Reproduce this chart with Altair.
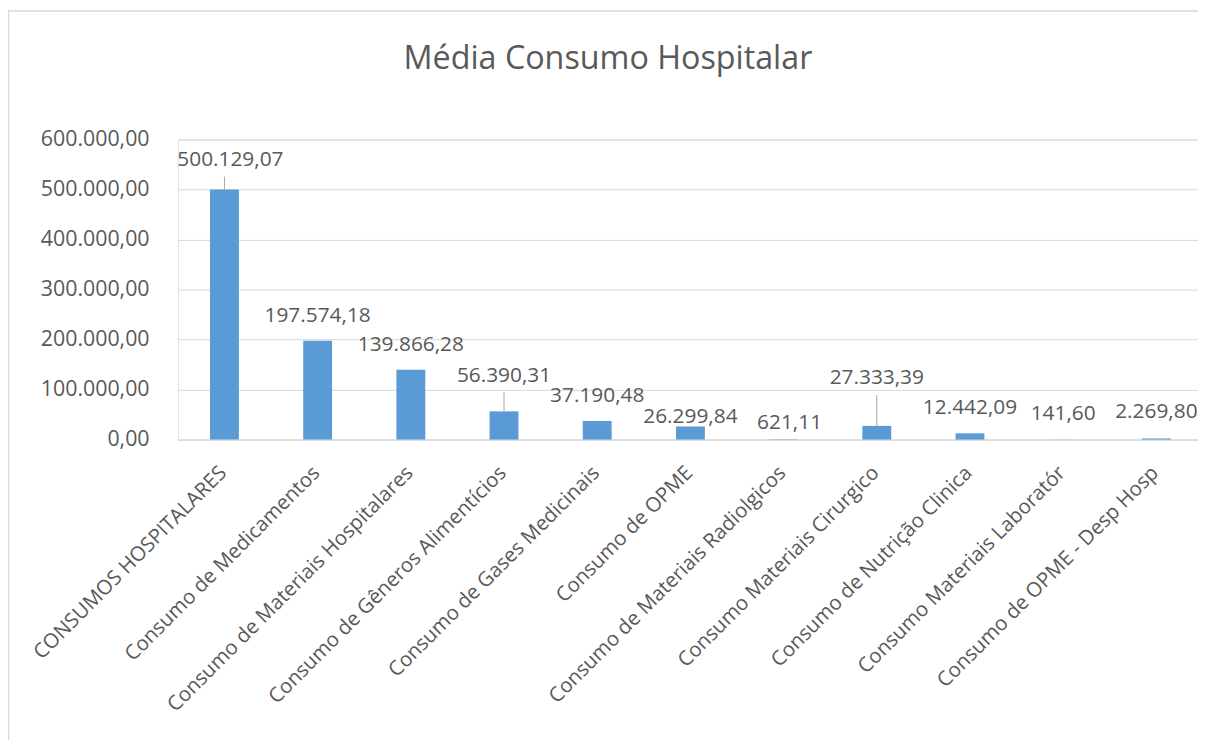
import altair as alt
import pandas as pd

title_text = "Média Consumo Hospitalar"

categories = [
    "CONSUMOS HOSPITALARES",
    "Consumo de Medicamentos",
    "Consumo de Materiais Hospitalares",
    "Consumo de Gêneros Alimentícios",
    "Consumo de Gases Medicinais",
    "Consumo de OPME",
    "Consumo de Materiais Radiolgicos",
    "Consumo Materiais Cirurgico",
    "Consumo de Nutrição Clinica",
    "Consumo Materiais Laboratór",
    "Consumo de OPME - Desp Hosp",
]

values = [500129.07, 197574.18, 139866.28, 56390.31, 37190.48, 26299.84,
          621.11, 27333.39, 12442.09, 141.60, 2269.80]

y_ticks = [0, 100000, 200000, 300000, 400000, 500000, 600000]

# layout: how far (px) each data label sits above its bar, which ones are nudged
# right a little, and which get a leader line
label_lift_px = [30, 25, 25, 36, 25, 9, 16, 48, 25, 26, 27]
label_nudged = [True, False, False, False, False, False, True, False, False, False, False]
has_leader = [True, False, False, True, False, False, False, True, False, False, False]

W, H = 1027, 302
XRANGE = 1032
YMAX = 600000
k = YMAX / H

df = pd.DataFrame({"cat": categories, "value": values})
df["label_y"] = [v + l * k for v, l in zip(values, label_lift_px)]
df["leader_top"] = [v + (l - 17) * k for v, l in zip(values, label_lift_px)]
df["leader"] = has_leader
df["nudged"] = label_nudged

GRAY = "#595959"
GRID = "#D9D9D9"
FONT = "Open Sans"

xscale = alt.Scale(paddingInner=0.69, paddingOuter=0.345, range=[0, XRANGE])
xenc = alt.X("cat:N", sort=categories, title=None, scale=xscale,
             axis=alt.Axis(labelAngle=-45, labelAlign="right", labelBaseline="top",
                           labelOffset=-8, labelPadding=23, labelFontSize=20.5,
                           labelColor=GRAY, labelFont=FONT, ticks=False,
                           domainColor=GRID, domainWidth=1, labelLimit=500,
                           grid=False, labelOverlap=False))
yscale = alt.Scale(domain=[0, YMAX], nice=False)

base = alt.Chart(df)

bars = base.mark_bar(color="#5B9BD5").encode(
    x=xenc,
    y=alt.Y("value:Q", scale=yscale, title=None,
            axis=alt.Axis(values=y_ticks, format=",.2f", labelFontSize=21.5,
                          labelColor=GRAY, labelFont=FONT, labelPadding=29,
                          ticks=False, domain=False, gridColor=GRID, gridWidth=1)),
)

label_enc = dict(
    x=alt.X("cat:N", sort=categories, scale=xscale),
    y=alt.Y("label_y:Q", scale=yscale),
    text=alt.Text("value:Q", format=",.2f"),
)
labels = base.transform_filter("!datum.nudged").mark_text(
    fontSize=21, font=FONT, color=GRAY, baseline="middle").encode(**label_enc)
labels_nudged = base.transform_filter("datum.nudged").mark_text(
    fontSize=21, font=FONT, color=GRAY, baseline="middle", dx=6).encode(**label_enc)

leaders = base.transform_filter("datum.leader").mark_rule(color="#A6A6A6", strokeWidth=1).encode(
    x=alt.X("cat:N", sort=categories, scale=xscale),
    y=alt.Y("value:Q", scale=yscale),
    y2="leader_top:Q",
)

title_df = pd.DataFrame({"t": [title_text]})
title = alt.Chart(title_df).mark_text(fontSize=32.5, font=FONT, color=GRAY,
                                      align="center", baseline="alphabetic").encode(
    text="t:N", x=alt.value(433), y=alt.value(-71))

frame_df = pd.DataFrame({"f": [0]})
left_border = alt.Chart(frame_df).mark_rule(color=GRID, strokeWidth=1.5).encode(
    x=alt.value(-170.5), y=alt.value(-130), y2=alt.value(H + 330))
top_border = alt.Chart(frame_df).mark_rule(color=GRID, strokeWidth=1.5).encode(
    x=alt.value(-171), x2=alt.value(W + 20), y=alt.value(-129.5))

chart = alt.layer(bars, leaders, labels, labels_nudged, title,
                  left_border, top_border).properties(
    width=W, height=H,
    autosize=alt.AutoSizeParams(type="none"),
    padding={"left": 171, "top": 130, "right": 0, "bottom": 300},
).configure_view(stroke=None).configure(background="white")

chart.save("out.html", embed_options={
    "renderer": "svg", "actions": False,
    "formatLocale": {"decimal": ",", "thousands": ".", "grouping": [3],
                     "currency": ["R$", ""]},
})
